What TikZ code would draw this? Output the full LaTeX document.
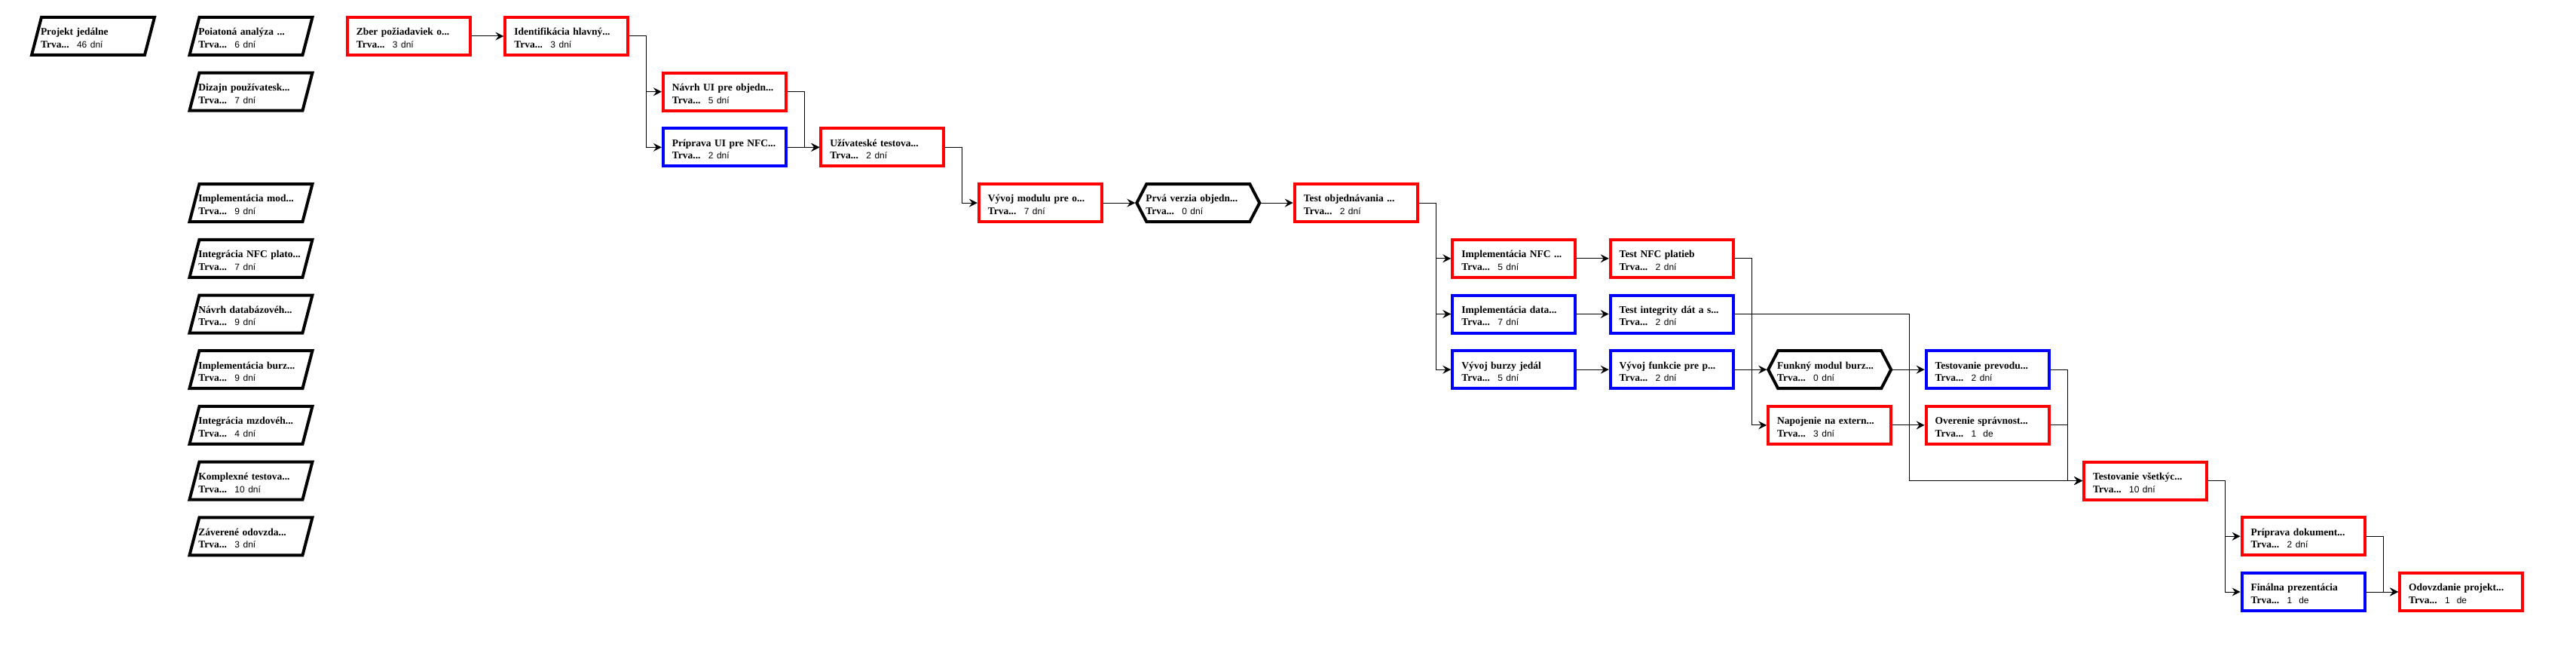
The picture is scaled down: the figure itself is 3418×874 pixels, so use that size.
\documentclass[tikz,border=0pt]{standalone}
\usepackage{fontspec}
\setmainfont{Liberation Serif}
\newfontfamily\durfont{Liberation Sans}
\usetikzlibrary{arrows.meta,calc}
\newcommand\colx[1]{40+209.47*#1}
\newcommand\rowy[1]{21+73.7*#1}
\newcommand\tk[2]{\mbox{\rule{0pt}{14.5pt}\bfseries #1}\\\mbox{\makebox[48pt][l]{\bfseries Trva...}{\durfont\fontsize{12}{14}\selectfont #2}}}
\newcommand\paralshape[1]{\draw[shapeline] ([xshift=15pt,yshift=-2pt]#1.north west) -- ([xshift=-2pt,yshift=-2pt]#1.north east) -- ([xshift=-15pt,yshift=2pt]#1.south east) -- ([xshift=2pt,yshift=2pt]#1.south west) -- cycle;}
\newcommand\hexshape[1]{\draw[shapeline] ([xshift=2pt]#1.west) -- ([xshift=15pt,yshift=-2pt]#1.north west) -- ([xshift=-15pt,yshift=-2pt]#1.north east) -- ([xshift=-2pt]#1.east) -- ([xshift=-15pt,yshift=2pt]#1.south east) -- ([xshift=15pt,yshift=2pt]#1.south west) -- cycle;}
\tikzset{
  task/.style={rectangle, anchor=north west, minimum width=163pt, minimum height=50pt,
    inner xsep=12pt, inner ysep=0pt, outer sep=2pt, line width=4pt,
    text width=139pt, align=left, font=\fontsize{13.5}{16.6}\selectfont},
  redbox/.style={task, draw=red},
  bluebox/.style={task, draw=blue},
  plainbox/.style={task},
  shapeline/.style={line width=4pt, draw=black, line join=miter},
  conn/.style={line width=1pt, black, -{Stealth[length=11pt,width=11pt,inset=4pt]}}
}
\begin{document}
\begin{tikzpicture}[x=1pt,y=-1pt]
\useasboundingbox[fill=white] (0,0) rectangle (3418,874);
% summary column
\node[plainbox] (p0) at ({\colx{0}},{\rowy{0}}) {\tk{Projekt jedálne}{46 dní}};
\node[plainbox] (s1) at ({\colx{1}},{\rowy{0}}) {\tk{Poiatoná analýza ...}{6 dní}};
\node[plainbox] (s2) at ({\colx{1}},{\rowy{1}}) {\tk{Dizajn používatesk...}{7 dní}};
\node[plainbox] (s3) at ({\colx{1}},{\rowy{3}}) {\tk{Implementácia mod...}{9 dní}};
\node[plainbox] (s4) at ({\colx{1}},{\rowy{4}}) {\tk{Integrácia NFC plato...}{7 dní}};
\node[plainbox] (s5) at ({\colx{1}},{\rowy{5}}) {\tk{Návrh databázovéh...}{9 dní}};
\node[plainbox] (s6) at ({\colx{1}},{\rowy{6}}) {\tk{Implementácia burz...}{9 dní}};
\node[plainbox] (s7) at ({\colx{1}},{\rowy{7}}) {\tk{Integrácia mzdovéh...}{4 dní}};
\node[plainbox] (s8) at ({\colx{1}},{\rowy{8}}) {\tk{Komplexné testova...}{10 dní}};
\node[plainbox] (s9) at ({\colx{1}},{\rowy{9}}) {\tk{Záverené odovzda...}{3 dní}};
\foreach \n in {p0,s1,s2,s3,s4,s5,s6,s7,s8,s9} {\paralshape{\n}}
% network
\node[redbox] (zber) at ({\colx{2}},{\rowy{0}}) {\tk{Zber požiadaviek o...}{3 dní}};
\node[redbox] (iden) at ({\colx{3}},{\rowy{0}}) {\tk{Identifikácia hlavný...}{3 dní}};
\node[redbox] (navui) at ({\colx{4}},{\rowy{1}}) {\tk{Návrh UI pre objedn...}{5 dní}};
\node[bluebox] (pripui) at ({\colx{4}},{\rowy{2}}) {\tk{Príprava UI pre NFC...}{2 dní}};
\node[redbox] (uzit) at ({\colx{5}},{\rowy{2}}) {\tk{Užívateské testova...}{2 dní}};
\node[redbox] (vyvmod) at ({\colx{6}},{\rowy{3}}) {\tk{Vývoj modulu pre o...}{7 dní}};
\node[plainbox] (prva) at ({\colx{7}},{\rowy{3}}) {\tk{Prvá verzia objedn...}{0 dní}};
\node[redbox] (testobj) at ({\colx{8}},{\rowy{3}}) {\tk{Test objednávania ...}{2 dní}};
\node[redbox] (impnfc) at ({\colx{9}},{\rowy{4}}) {\tk{Implementácia NFC ...}{5 dní}};
\node[redbox] (testnfc) at ({\colx{10}},{\rowy{4}}) {\tk{Test NFC platieb}{2 dní}};
\node[bluebox] (impdata) at ({\colx{9}},{\rowy{5}}) {\tk{Implementácia data...}{7 dní}};
\node[bluebox] (testint) at ({\colx{10}},{\rowy{5}}) {\tk{Test integrity dát a s...}{2 dní}};
\node[bluebox] (vyvburz) at ({\colx{9}},{\rowy{6}}) {\tk{Vývoj burzy jedál}{5 dní}};
\node[bluebox] (vyvfunk) at ({\colx{10}},{\rowy{6}}) {\tk{Vývoj funkcie pre p...}{2 dní}};
\node[plainbox] (funk) at ({\colx{11}},{\rowy{6}}) {\tk{Funkný modul burz...}{0 dní}};
\node[redbox] (napoj) at ({\colx{11}},{\rowy{7}}) {\tk{Napojenie na extern...}{3 dní}};
\node[bluebox] (testprev) at ({\colx{12}},{\rowy{6}}) {\tk{Testovanie prevodu...}{2 dní}};
\node[redbox] (over) at ({\colx{12}},{\rowy{7}}) {\tk{Overenie správnost...}{1~~de}};
\node[redbox] (testvset) at ({\colx{13}},{\rowy{8}}) {\tk{Testovanie všetkýc...}{10 dní}};
\node[redbox] (pripdok) at ({\colx{14}},{\rowy{9}}) {\tk{Príprava dokument...}{2 dní}};
\node[bluebox] (final) at ({\colx{14}},{\rowy{10}}) {\tk{Finálna prezentácia}{1~~de}};
\node[redbox] (odovz) at ({\colx{15}},{\rowy{10}}) {\tk{Odovzdanie projekt...}{1~~de}};
\hexshape{prva}
\hexshape{funk}
% connectors
\draw[conn] (zber.east) -- (iden.west);
\draw[conn] (iden.east) -| ([xshift=-20pt]navui.west) -- (navui.west);
\draw[conn] (iden.east) -| ([xshift=-20pt]pripui.west) -- (pripui.west);
\draw[conn] (navui.east) -| ([xshift=-20pt]uzit.west) -- (uzit.west);
\draw[conn] (pripui.east) -- (uzit.west);
\draw[conn] (uzit.east) -| ([xshift=-20pt]vyvmod.west) -- (vyvmod.west);
\draw[conn] (vyvmod.east) -- (prva.west);
\draw[conn] (prva.east) -- (testobj.west);
\draw[conn] (testobj.east) -| ([xshift=-20pt]impnfc.west) -- (impnfc.west);
\draw[conn] (testobj.east) -| ([xshift=-20pt]impdata.west) -- (impdata.west);
\draw[conn] (testobj.east) -| ([xshift=-20pt]vyvburz.west) -- (vyvburz.west);
\draw[conn] (impnfc.east) -- (testnfc.west);
\draw[conn] (impdata.east) -- (testint.west);
\draw[conn] (vyvburz.east) -- (vyvfunk.west);
\draw[conn] (testnfc.east) -| ([xshift=-20pt]napoj.west) -- (napoj.west);
\draw[conn] (vyvfunk.east) -- (funk.west);
\draw[conn] (testint.east) -| ($(testprev.west)+(-20pt,0pt)$) |- (testvset.west);
\draw[conn] (funk.east) -- (testprev.west);
\draw[conn] (napoj.east) -- (over.west);
\draw[conn] (testprev.east) -| ([xshift=-20pt]testvset.west) -- (testvset.west);
\draw[conn] (over.east) -| ([xshift=-20pt]testvset.west) -- (testvset.west);
\draw[conn] (testvset.east) -| ([xshift=-20pt]pripdok.west) -- (pripdok.west);
\draw[conn] (testvset.east) -| ([xshift=-20pt]final.west) -- (final.west);
\draw[conn] (pripdok.east) -| ([xshift=-20pt]odovz.west) -- (odovz.west);
\draw[conn] (final.east) -- (odovz.west);
\end{tikzpicture}
\end{document}
